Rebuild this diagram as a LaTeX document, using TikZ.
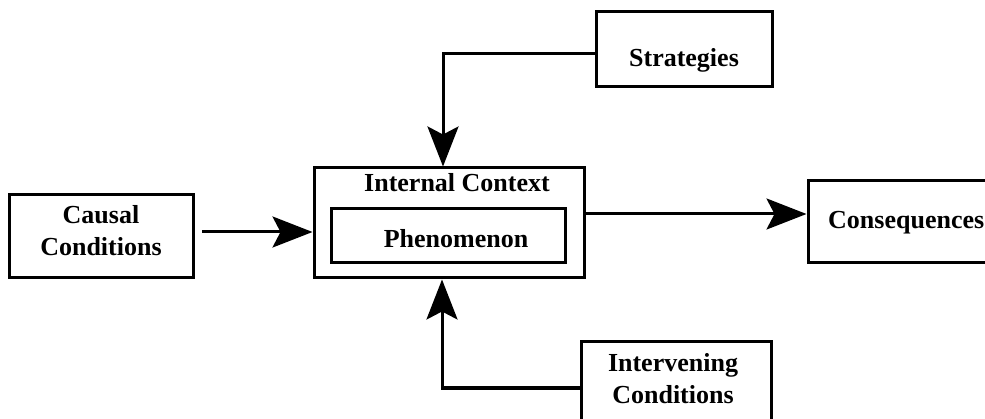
\documentclass[tikz,border=0pt]{standalone}
\usepackage{fontspec}
\setmainfont{Liberation Serif}
\usetikzlibrary{arrows.meta}
\begin{document}
\begin{tikzpicture}[x=1pt,y=-1pt,
  box/.style={draw=black, line width=3pt, rectangle, inner sep=0pt},
  lbl/.style={font=\fontsize{26}{32}\selectfont\bfseries, align=center, inner sep=0pt},
  arr/.style={draw=black, line width=3pt,
    -{Stealth[length=40pt,width=31pt,inset=8pt]}}]
  \useasboundingbox (0,0) rectangle (985,419);
  \clip (0,0) rectangle (985,419);

  % boxes
  \node[box, minimum width=184pt, minimum height=83pt] (causal) at (101,236.5) {};
  \node[box, minimum width=270pt, minimum height=110pt] (outer) at (449,223) {};
  \node[box, minimum width=234pt, minimum height=54pt] (inner) at (448,236) {};
  \node[box, minimum width=176pt, minimum height=75pt] (strat) at (684,49.5) {};
  \node[box, minimum width=202pt, minimum height=82pt] (cons) at (909,222) {};
  \node[box, minimum width=190pt, minimum height=98pt] (interv) at (676,391) {};

  % labels
  \node[lbl] (causalT) at (101,231) {Causal\\Conditions};
  \node[lbl] (outerT) at (457,183) {Internal Context};
  \node[lbl] (innerT) at (456,239) {Phenomenon};
  \node[lbl] (stratT) at (684,60) {Strategies};
  \node[lbl, anchor=west] (consT) at (828,223) {Consequences};
  \node[lbl] (intervT) at (673,379) {Intervening\\Conditions};

  % connectors
  \coordinate (ck) at (202,232);
  \draw[arr] (ck) -- (ck -| outer.west);
  \coordinate (qk) at (584,214);
  \draw[arr] (outer.east |- qk) -- (cons.west |- qk);
  \coordinate (sk) at (443,54);
  \draw[arr] (strat.west |- sk) -- (sk) -- (sk |- outer.north);
  \coordinate (ik) at (442,388);
  \draw[arr] (interv.west |- ik) -- (ik) -- (ik |- outer.south);
\end{tikzpicture}
\end{document}
